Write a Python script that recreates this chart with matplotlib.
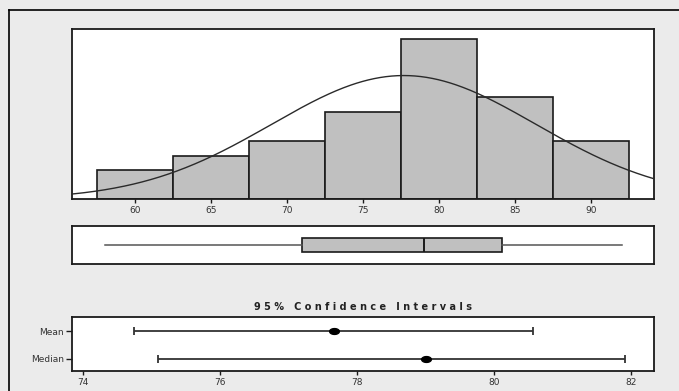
"""Graphical summary: histogram with normal fit, boxplot and 95% CIs"""

import numpy as np
import matplotlib
matplotlib.use("Agg")
import matplotlib.pyplot as plt
from matplotlib.lines import Line2D

# Histogram counts per bin (bin midpoints, width 5)
bin_mids = [60, 65, 70, 75, 80, 85, 90]
counts = [2, 3, 4, 6, 11, 7, 4]
bin_width = 5

# Sample statistics used for the fitted normal curve
mean_val = 77.67
sd_val = 8.68

# Five-number summary for the boxplot
box_whislo = 58.05
box_q1 = 71.0
box_med = 79.0
box_q3 = 84.1
box_whishi = 92.0

# 95% confidence intervals
ci_labels = ["Mean", "Median"]
ci_centers = [77.66, 79.01]
ci_low = [74.74, 75.09]
ci_high = [80.57, 81.91]

hist_ticks = [60, 65, 70, 75, 80, 85, 90]
ci_ticks = [74, 76, 78, 80, 82]

BG = "#ebebeb"
BAR = "#c0c0c0"
EDGE = "#1a1a1a"
TXT = "#333333"

plt.rcParams["font.family"] = ["DejaVu Sans"]

fig = plt.figure(figsize=(6.79, 3.91), dpi=100, facecolor=BG)

left, width = 72 / 679, (654.3 - 72) / 679


def style_axes(ax):
    ax.set_facecolor("white")
    for sp in ax.spines.values():
        sp.set_linewidth(1.3)
        sp.set_color(EDGE)
    ax.tick_params(axis="both", length=3, width=1, color=EDGE,
                   labelsize=6.5, labelcolor=TXT, pad=2)


# --- histogram with fitted normal curve ---
ax_h = fig.add_axes([left, 1 - 199.3 / 391, width, (199.3 - 29.3) / 391])
style_axes(ax_h)
ax_h.bar(bin_mids, counts, width=bin_width, color=BAR, edgecolor=EDGE,
         linewidth=1.2, zorder=2)
xlo, xhi = 55.86, 94.14
xs = np.linspace(xlo, xhi, 400)
n_total = sum(counts)
dens = n_total * bin_width / (sd_val * np.sqrt(2 * np.pi)) * \
    np.exp(-0.5 * ((xs - mean_val) / sd_val) ** 2)
ax_h.plot(xs, dens, color="#2a2a2a", linewidth=1.0, zorder=3)
ax_h.set_xlim(xlo, xhi)
ax_h.set_ylim(0, 11.68)
ax_h.set_xticks(hist_ticks)
ax_h.set_yticks([])

# --- boxplot ---
ax_b = fig.add_axes([left, 1 - 264 / 391, width, (264 - 225.7) / 391])
style_axes(ax_b)
stats = [dict(whislo=box_whislo, q1=box_q1, med=box_med, q3=box_q3,
              whishi=box_whishi, fliers=[])]
ax_b.bxp(stats, positions=[0], widths=0.73, orientation="horizontal",
         showcaps=False, showfliers=False, patch_artist=True,
         boxprops=dict(facecolor=BAR, edgecolor=EDGE, linewidth=1.2),
         medianprops=dict(color=EDGE, linewidth=1.4),
         whiskerprops=dict(color="#555555", linewidth=1.1))
ax_b.set_xlim(xlo, xhi)
ax_b.set_ylim(-1, 1)
ax_b.set_xticks([])
ax_b.set_yticks([])

# --- confidence intervals ---
ax_c = fig.add_axes([left, 1 - 371 / 391, width, (371 - 316.7) / 391])
style_axes(ax_c)
ypos = np.arange(1, len(ci_labels) + 1)
xerr = [np.subtract(ci_centers, ci_low), np.subtract(ci_high, ci_centers)]
ax_c.errorbar(ci_centers, ypos, xerr=xerr, fmt="none", ecolor="#333333",
              elinewidth=1.3, capsize=3.2, capthick=1.3)
# flattened dot marker
t = np.linspace(0, 2 * np.pi, 40)
oval = np.column_stack([np.cos(t), 0.6 * np.sin(t)])
ax_c.plot(ci_centers, ypos, linestyle="none", marker=oval, color="black",
          markersize=7)
ax_c.set_xlim(73.84, 82.336)
ax_c.set_ylim(2.44, 0.485)
ax_c.set_xticks(ci_ticks)
ax_c.set_yticks(ypos)
ax_c.set_yticklabels(ci_labels)
ax_c.tick_params(axis="y", length=4)
ax_c.set_title("9 5 %   C o n f i d e n c e   I n t e r v a l s",
               fontsize=7, fontweight="bold", color="#222222", pad=5)

# outer frame (runs off the right and bottom edges)
fx, fy = 8.5 / 679, 1 - 10 / 391
fig.add_artist(Line2D([fx, fx], [0, fy], transform=fig.transFigure,
                      color="black", linewidth=1.2))
fig.add_artist(Line2D([fx, 1], [fy, fy], transform=fig.transFigure,
                      color="black", linewidth=1.2))

fig.savefig("out.png", dpi=100, facecolor=BG)
